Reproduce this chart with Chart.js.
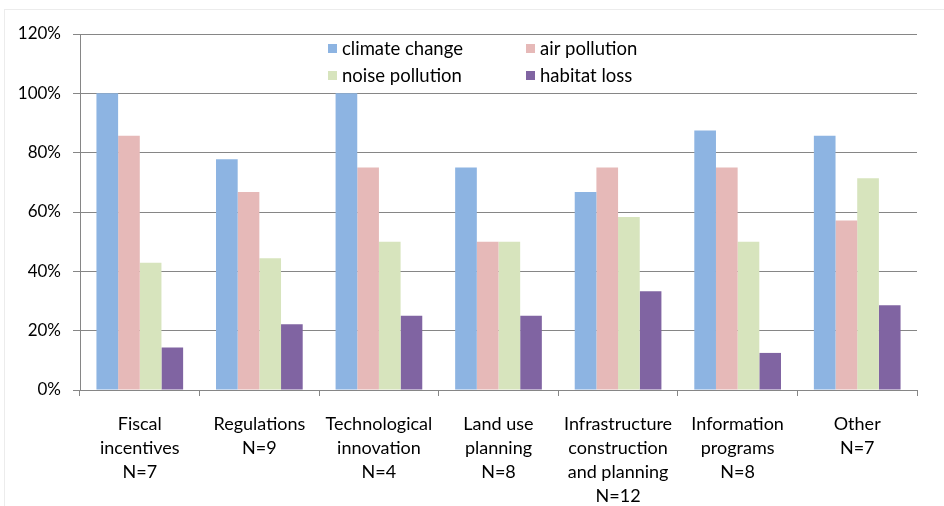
<!DOCTYPE html>
<html>
<head>
<meta charset="utf-8">
<script src="https://cdn.jsdelivr.net/npm/chart.js@4.4.1/dist/chart.umd.min.js"></script>
<style>
html,body{margin:0;padding:0;background:#fff;}
#wrap{width:944px;height:506px;position:relative;}
</style>
</head>
<body>
<div id="wrap"><canvas id="c" width="944" height="506"></canvas></div>
<script>
const categories = [
  ["Fiscal","incentives","N=7"],
  ["Regulations","N=9"],
  ["Technological","innovation","N=4"],
  ["Land use","planning","N=8"],
  ["Infrastructure","construction","and planning","N=12"],
  ["Information","programs","N=8"],
  ["Other","N=7"]
];
const seriesNames = ["climate change","air pollution","noise pollution","habitat loss"];
const climateChange  = [100, 77.8, 100, 75, 66.7, 87.5, 85.7];
const airPollution   = [85.7, 66.7, 75, 50, 75, 75, 57.1];
const noisePollution = [42.9, 44.4, 50, 50, 58.3, 50, 71.4];
const habitatLoss    = [14.3, 22.2, 25, 25, 33.3, 12.5, 28.6];
const yTicks = [0, 20, 40, 60, 80, 100, 120];
const colors = ["#8DB4E2", "#E6B9B8", "#D7E4BD", "#8064A2"];

const FONT = "Lato, 'Open Sans', sans-serif";

const insideLegend = {
  id: 'insideLegend',
  afterDraw(chart) {
    const ctx = chart.ctx;
    const pos = [[328, 49], [526, 49], [328, 76], [526, 76]];
    ctx.save();
    ctx.font = "18.5px " + FONT;
    ctx.textBaseline = "middle";
    ctx.fillStyle = "#000";
    chart.data.datasets.forEach((ds, i) => {
      const [x, y] = pos[i];
      ctx.fillStyle = ds.backgroundColor;
      ctx.fillRect(x, y - 5, 9, 9);
      ctx.fillStyle = "#000";
      ctx.fillText(ds.label, x + 14, y);
    });
    ctx.restore();
  }
};
const frame = {
  id: 'frame',
  beforeDraw(chart) {
    const ctx = chart.ctx;
    ctx.save();
    ctx.fillStyle = "#fff";
    ctx.fillRect(0, 0, chart.width, chart.height);
    ctx.strokeStyle = "#ececec";
    ctx.lineWidth = 1;
    ctx.strokeRect(4.5, 9.5, chart.width + 10, chart.height + 10);
    ctx.restore();
  }
};

new Chart(document.getElementById('c'), {
  type: 'bar',
  data: {
    labels: categories,
    datasets: [
      {label: seriesNames[0], data: climateChange, backgroundColor: colors[0]},
      {label: seriesNames[1], data: airPollution, backgroundColor: colors[1]},
      {label: seriesNames[2], data: noisePollution, backgroundColor: colors[2]},
      {label: seriesNames[3], data: habitatLoss, backgroundColor: colors[3]}
    ]
  },
  options: {
    responsive: false,
    animation: false,
    layout: {padding: {top: 34, right: 27, left: 0, bottom: 0}},
    datasets: {bar: {categoryPercentage: 0.725, barPercentage: 1.0, borderWidth: 0}},
    plugins: {
      legend: {display: false},
      tooltip: {enabled: false}
    },
    scales: {
      x: {
        offset: true,
        grid: {offset: true, drawOnChartArea: false, drawTicks: true, tickLength: 6, color: "#868686"},
        border: {color: "#868686", width: 1},
        ticks: {color: "#000", font: {family: FONT, size: 18, lineHeight: 1.333}, padding: 16, maxRotation: 0, autoSkip: false},
        afterFit(s) { s.height = 116; }
      },
      y: {
        min: 0, max: 120,
        afterBuildTicks(s) { s.ticks = yTicks.map(v => ({value: v})); },
        grid: {color: "#868686", tickLength: 7, drawTicks: true},
        border: {color: "#868686", width: 1},
        ticks: {color: "#000", font: {family: FONT, size: 17}, padding: 12, callback: v => v + "%"},
        afterFit(s) { s.width = 80; }
      }
    }
  },
  plugins: [frame, insideLegend]
});
</script>
</body>
</html>
